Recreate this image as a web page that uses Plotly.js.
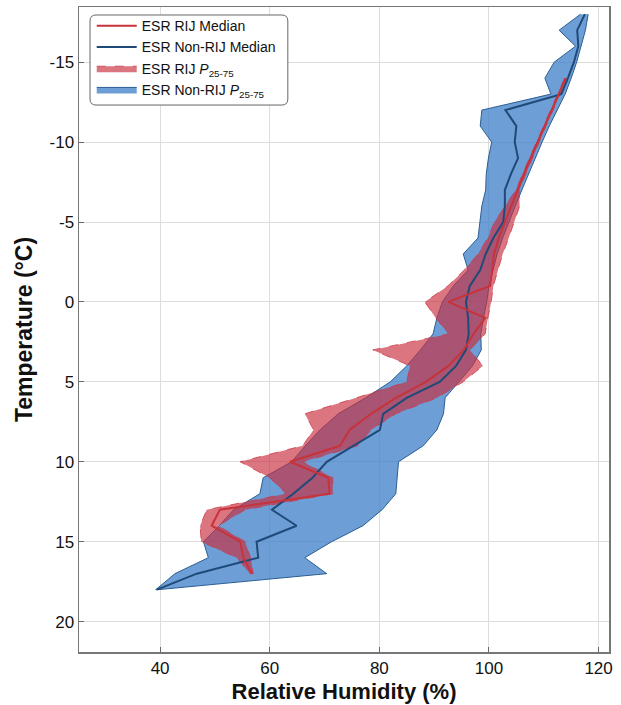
<!DOCTYPE html>
<html>
<head>
<meta charset="utf-8">
<script src="https://cdn.plot.ly/plotly-3.0.1.min.js"></script>
<style>html,body{margin:0;padding:0;background:#fff;}#chart{width:621px;height:705px;}</style>
</head>
<body>
<div id="chart"></div>
<script>
// Temperature levels (°C)
const tempNonRIJ = [-18,-17,-16,-15,-14,-13,-12,-11,-10,-9,-8,-7,-6,-5,-4,-3,-2,-1,0,1,2,3,4,5,6,7,8,9,10,11,12,13,14,15,16,17,18];
const nonRIJMedian = [117.5,116.1,116.3,115.5,114.4,113.2,103.0,105.0,104.7,105.3,104.0,102.9,102.9,102.6,100.8,99.4,98.4,96.5,95.8,96.2,96.3,95.8,94.0,91.0,85.0,80.7,80.1,75.3,70.4,67.8,64.3,60.4,64.9,57.6,57.9,46.7,39.4];
const nonRIJP25 = [116.7,112.8,115.8,111.9,110.2,111.3,98.7,98.4,100.5,99.9,99.5,99.4,98.7,98.4,98.0,95.3,96.2,93.5,91.5,90.5,89.8,87.5,85.0,82.0,77.5,72.5,69.2,66.5,64.0,58.8,58.2,53.4,50.8,47.9,48.8,42.7,39.2];
const nonRIJP75 = [118.1,117.6,116.8,116.0,115.0,113.9,112.5,111.0,109.7,108.4,107.2,106.0,104.8,103.6,102.5,101.5,100.8,100.0,99.6,99.0,98.5,98.6,97.0,94.5,92.0,91.7,90.5,88.0,83.5,83.2,83.0,80.5,77.0,71.3,66.4,70.4,39.6];

const tempRIJ = [-14,-13,-12,-11,-10,-9,-8,-7,-6,-5,-4,-3,-2,-1,0,1,2,3,4,5,6,7,8,9,10,11,12,13,14,15,16,17];
const rijMedian = [114.0,112.7,111.4,110.1,108.8,107.6,106.4,105.2,104.0,102.9,101.8,100.9,100.6,100.2,92.6,99.3,97.2,95.4,92.6,88.5,83.0,78.5,74.6,72.8,63.7,70.7,70.9,50.9,49.4,54.6,55.2,56.7];
const rijP25 = [113.8,112.5,111.2,109.9,108.6,107.3,106.1,104.9,103.0,101.0,99.8,98.0,95.5,92.5,88.3,90.3,92.6,78.8,85.6,85.0,75.8,66.4,68.0,66.0,54.6,60.0,63.0,48.5,47.3,47.5,54.0,56.4];
const rijP75 = [114.2,113.0,111.7,110.4,109.1,107.9,106.7,105.5,105.6,104.6,103.6,102.5,101.6,100.8,100.4,99.8,99.3,96.5,98.9,95.3,90.5,83.0,78.5,76.0,66.0,71.5,71.5,55.5,50.6,55.5,56.5,57.0];

const yTickVals = [-15,-10,-5,0,5,10,15,20];
const yTickText = ['-15','-10','-5','0','5','10','15','20'];
const xTickVals = [40,60,80,100,120];

function band(lo, hi, t) {
  return { x: lo.concat(hi.slice().reverse()), y: t.concat(t.slice().reverse()) };
}
const bBlue = band(nonRIJP25, nonRIJP75, tempNonRIJ);
const bRed = band(rijP25, rijP75, tempRIJ);

const traces = [
  { x: bBlue.x, y: bBlue.y, type: 'scatter', mode: 'lines', fill: 'toself',
    fillcolor: 'rgba(60,125,200,0.75)', line: {color: '#2b5f93', width: 1},
    name: 'ESR Non-RIJ <i>P</i><sub>25-75</sub>', legendrank: 4 },
  { x: bRed.x, y: bRed.y, type: 'scatter', mode: 'lines', fill: 'toself',
    fillcolor: 'rgba(200,45,62,0.66)', line: {color: 'rgba(205,55,70,0.8)', width: 1, dash: 'dash'},
    name: 'ESR RIJ <i>P</i><sub>25-75</sub>', legendrank: 3 },
  { x: nonRIJMedian, y: tempNonRIJ, type: 'scatter', mode: 'lines',
    line: {color: '#1f4a78', width: 2}, name: 'ESR Non-RIJ Median', legendrank: 2 },
  { x: rijMedian, y: tempRIJ, type: 'scatter', mode: 'lines',
    line: {color: '#c8323a', width: 2}, name: 'ESR RIJ Median', legendrank: 1 }
];

// rounded legend frame (paper coordinates)
const lx0 = 0.0208, lx1 = 0.394, ly0 = 0.848, ly1 = 0.9876, rx = 0.0113, ry = 0.0093;
const framePath = `M ${lx0+rx},${ly1} L ${lx1-rx},${ly1} Q ${lx1},${ly1} ${lx1},${ly1-ry} L ${lx1},${ly0+ry} Q ${lx1},${ly0} ${lx1-rx},${ly0} L ${lx0+rx},${ly0} Q ${lx0},${ly0} ${lx0},${ly0+ry} L ${lx0},${ly1-ry} Q ${lx0},${ly1} ${lx0+rx},${ly1} Z`;

const layout = {
  width: 621, height: 705,
  margin: {l: 79, r: 12, t: 7, b: 53},
  paper_bgcolor: '#fff', plot_bgcolor: '#fff',
  font: {family: 'Liberation Sans, Arial, sans-serif', color: '#111'},
  showlegend: true,
  legend: {x: 0.024, y: 0.995, xanchor: 'left', yanchor: 'top',
    bgcolor: 'rgba(0,0,0,0)', borderwidth: 0,
    font: {size: 14, color: '#111'}, tracegroupgap: 0, itemwidth: 40},
  shapes: [{type: 'path', xref: 'paper', yref: 'paper', path: framePath,
    fillcolor: '#ffffff', line: {color: '#666', width: 1}, layer: 'above'}],
  xaxis: {range: [25.2, 121.9], tickvals: xTickVals, ticks: 'inside', ticklen: 5,
    tickcolor: '#666', showgrid: true, gridcolor: '#dddddd', zeroline: false,
    showline: true, linecolor: '#777', linewidth: 1.5, mirror: true,
    tickfont: {size: 17}, title: {text: '<b>Relative Humidity (%)</b>', font: {size: 22}, standoff: 6}},
  yaxis: {range: [21.9, -18.45], tickvals: yTickVals, ticktext: yTickText, ticks: 'inside', ticklen: 5,
    tickcolor: '#666', showgrid: true, gridcolor: '#dddddd', zeroline: false,
    showline: true, linecolor: '#777', linewidth: 1.5, mirror: true,
    tickfont: {size: 17}, title: {text: '<b>Temperature (°C)</b>', font: {size: 23}, standoff: 10}}
};

Plotly.newPlot('chart', traces, layout, {displayModeBar: false, staticPlot: true});
</script>
</body>
</html>
